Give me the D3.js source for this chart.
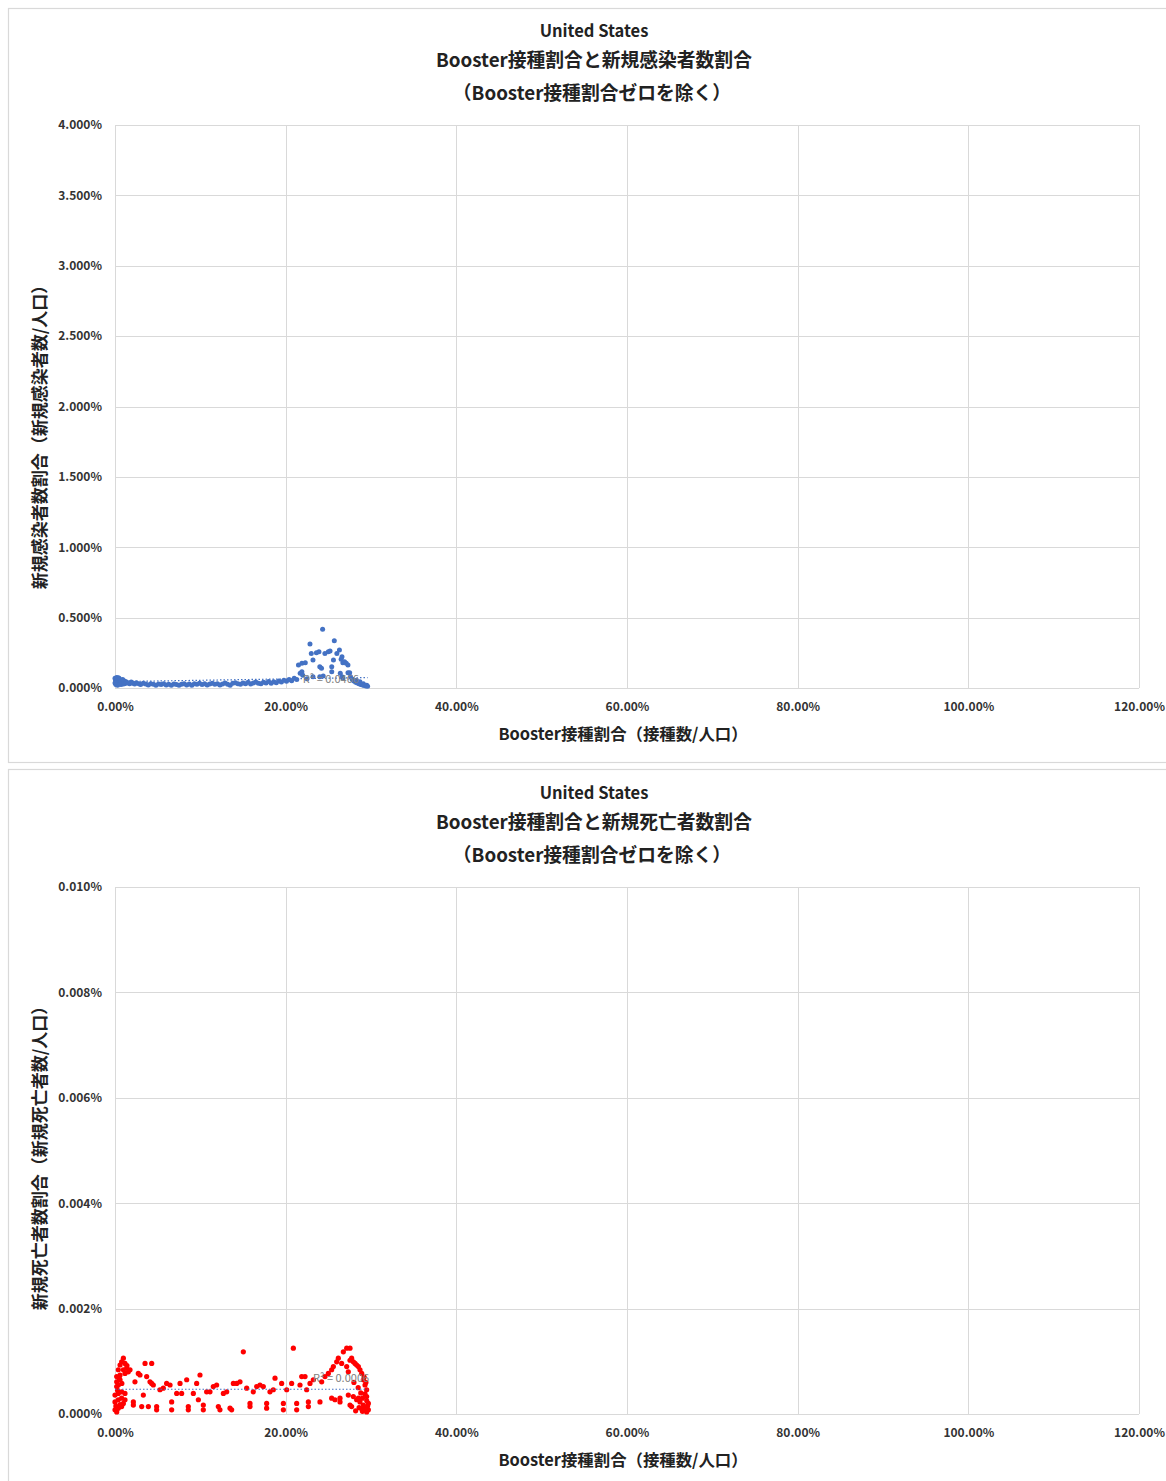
<!DOCTYPE html>
<html>
<head>
<meta charset="utf-8">
<script src="https://cdn.jsdelivr.net/npm/d3@7"></script>
<style>
  html, body { margin: 0; padding: 0; background: #fff; }
  svg text { font-family: "Noto Sans CJK JP", "Noto Sans", sans-serif; }
</style>
</head>
<body>
<svg id="chart" width="1166" height="1481"></svg>
<script>
// ---------- DATA ----------
const xTicks = [0, 20, 40, 60, 80, 100, 120];           // Booster ratio (%)
const yTicksCases = [0, 0.5, 1.0, 1.5, 2.0, 2.5, 3.0, 3.5, 4.0]; // %
const yTicksDeaths = [0, 0.002, 0.004, 0.006, 0.008, 0.010];     // %

const titleCountry = "United States";
const titleCases = "Booster接種割合と新規感染者数割合";
const titleDeaths = "Booster接種割合と新規死亡者数割合";
const subtitle = "（Booster接種割合ゼロを除く）";
const xAxisTitle = "Booster接種割合（接種数/人口）";
const yAxisTitleCases = "新規感染者数割合（新規感染者数/人口）";
const yAxisTitleDeaths = "新規死亡者数割合（新規死亡者数/人口）";

// New cases ratio (%) vs booster ratio (%)
const casesBooster = [0.0,0.05,0.1,0.15,0.2,0.25,0.3,0.35,0.4,0.45,0.5,0.55,0.6,0.7,0.8,0.9,1.0,1.1,1.2,1.3,1.5,1.7,1.9,2.1,2.3,2.5,2.8,3.0,3.3,3.6,3.9,4.2,4.5,4.8,5.1,5.4,5.7,6.0,6.3,6.6,6.9,7.2,7.5,7.8,8.1,8.4,8.7,9.0,9.3,9.6,9.9,10.2,10.5,10.8,11.1,11.4,11.7,12.0,12.3,12.6,12.9,13.2,13.5,13.8,14.1,14.4,14.7,15.0,15.3,15.6,15.9,16.2,16.5,16.8,17.1,17.4,17.7,18.0,18.3,18.6,18.9,19.2,19.5,19.8,20.1,20.4,20.7,
  21.0,21.3,21.5,21.7,21.9,21.9,22.0,22.3,22.5,22.85,23.0,23.2,23.2,23.6,23.9,24.0,24.0,24.2,24.33,24.4,24.6,25.0,25.2,25.4,25.4,25.6,25.7,26.0,26.3,26.4,26.5,26.6,26.6,26.7,26.7,26.9,27.1,27.3,27.3,27.5,27.6,27.8,28.0,28.2,28.3,28.4,28.6,28.7,28.8,29.0,29.1,29.2,29.4,29.5,29.6,
  0.1,0.3,0.5,0.7,0.9,0.2,0.6,1.0,0.0,0.4];
const casesRatio = [0.070,0.060,0.050,0.045,0.065,0.040,0.055,0.035,0.062,0.048,0.030,0.058,0.042,0.052,0.036,0.046,0.040,0.050,0.032,0.044,0.038,0.030,0.042,0.034,0.028,0.038,0.030,0.024,0.034,0.028,0.022,0.030,0.026,0.020,0.028,0.024,0.030,0.022,0.027,0.020,0.028,0.025,0.019,0.027,0.030,0.022,0.028,0.020,0.030,0.026,0.033,0.024,0.030,0.021,0.028,0.034,0.026,0.031,0.022,0.029,0.036,0.027,0.020,0.033,0.038,0.030,0.026,0.035,0.031,0.040,0.028,0.036,0.042,0.033,0.030,0.040,0.036,0.046,0.034,0.044,0.038,0.050,0.042,0.055,0.048,0.060,0.052,
  0.070,0.060,0.163,0.104,0.116,0.175,0.090,0.180,0.065,0.312,0.246,0.199,0.080,0.250,0.258,0.151,0.080,0.140,0.417,0.085,0.246,0.258,0.263,0.151,0.116,0.199,0.336,0.246,0.270,0.104,0.204,0.222,0.080,0.180,0.069,0.187,0.175,0.163,0.109,0.109,0.080,0.060,0.050,0.040,0.055,0.035,0.030,0.045,0.025,0.022,0.030,0.018,0.015,0.020,0.012,
  0.025,0.020,0.068,0.024,0.060,0.075,0.030,0.028,0.035,0.072];
const casesTrend = { booster: [0, 29.6], ratio: [0.045, 0.074] };
const casesR2 = "R² = 0.0466";

// New deaths ratio (%) vs booster ratio (%)
const deathsBooster = [0.98,0.78,0.59,1.17,0.39,0.98,1.37,1.76,0.20,0.59,1.17,1.56,0.20,0.59,0.20,0.39,0.0,0.39,0.78,1.17,0.0,0.39,0.78,0.98,1.17,0.0,0.39,0.78,0.20,0.59,0.10,0.30,
  2.15,2.15,2.34,2.73,2.93,3.13,3.32,3.52,4.30,3.71,4.10,4.30,4.49,3.91,4.88,4.88,5.27,5.66,6.05,6.45,6.64,6.64,7.23,7.62,7.81,8.40,8.59,8.59,9.18,9.57,9.96,9.77,10.35,10.35,10.74,11.13,11.52,11.91,12.11,12.30,12.70,13.09,13.48,13.67,13.87,14.26,14.65,15.04,15.43,15.82,15.82,16.21,16.60,16.99,17.38,17.77,17.77,18.16,18.55,18.75,19.53,19.73,19.73,20.12,20.70,20.90,21.29,21.29,21.68,21.88,22.27,22.46,22.66,22.66,22.85,23.24,24.02,24.22,24.61,25.00,25.39,25.59,25.39,25.78,26.37,26.37,25.98,26.17,26.56,26.76,27.15,27.54,27.15,27.34,27.54,27.73,27.93,28.13,28.32,28.52,28.71,27.34,27.54,27.73,27.93,28.32,28.52,28.71,28.91,29.10,29.30,29.49,29.49,29.69,29.69,29.49,29.30,29.10,
  28.0,28.5,28.8,29.0,29.2,29.4,29.6,29.5,29.0,28.6,28.2,0.5,1.4,0.8,29.3,28.9];
const deathsRatio = [1.06,0.99,0.93,0.96,0.84,0.84,0.87,0.84,0.71,0.74,0.77,0.80,0.61,0.65,0.52,0.55,0.36,0.39,0.42,0.39,0.23,0.27,0.30,0.20,0.27,0.08,0.11,0.14,0.04,0.18,0.15,0.45,
  0.23,0.17,0.61,0.77,0.74,0.14,0.36,0.96,0.96,0.71,0.61,0.58,0.55,0.14,0.14,0.08,0.46,0.49,0.58,0.55,0.23,0.08,0.39,0.58,0.39,0.65,0.08,0.14,0.39,0.58,0.74,0.27,0.17,0.08,0.42,0.42,0.52,0.55,0.14,0.08,0.39,0.42,0.11,0.08,0.58,0.58,0.61,1.18,0.49,0.20,0.14,0.42,0.52,0.55,0.52,0.20,0.11,0.42,0.46,0.68,0.58,0.20,0.08,0.46,0.58,1.25,0.20,0.08,0.55,0.71,0.71,0.46,0.23,0.14,0.58,0.65,0.23,0.61,0.71,0.77,0.84,0.90,0.30,0.27,0.30,0.23,0.99,1.06,0.96,1.18,1.25,1.25,0.90,0.80,1.02,1.06,0.99,0.96,0.93,0.90,0.84,0.36,0.17,0.14,0.33,0.27,0.30,0.23,0.77,0.65,0.55,0.46,0.33,0.20,0.08,0.04,0.11,0.17,
  0.60,0.50,0.40,0.30,0.70,0.60,0.15,0.25,0.05,0.12,0.06,0.68,0.92,0.58,0.38,0.10].map(v => v / 1000);
const deathsTrend = { booster: [0, 29.6], ratio: [0.00047, 0.00047] };
const deathsR2 = "R² = 0.0006";

// ---------- DRAW ----------
const svg = d3.select("#chart");
const GRID = "#d9d9d9";

function drawChart(cfg) {
  const g = svg.append("g");
  g.append("rect").attr("x", cfg.frame[0]).attr("y", cfg.frame[1])
    .attr("width", cfg.frame[2]).attr("height", cfg.frame[3])
    .attr("fill", "#fff").attr("stroke", GRID).attr("stroke-width", 1.2);

  const x = d3.scaleLinear().domain([0, 120]).range([cfg.left, cfg.right]);
  const y = d3.scaleLinear().domain(cfg.yDomain).range([cfg.bottom, cfg.top]);

  g.append("g").selectAll("line").data(cfg.yTicks).join("line")
    .attr("x1", cfg.left).attr("x2", cfg.right)
    .attr("y1", d => Math.round(y(d)) + 0.5).attr("y2", d => Math.round(y(d)) + 0.5)
    .attr("stroke", GRID).attr("stroke-width", 1);
  g.append("g").selectAll("line").data(xTicks).join("line")
    .attr("y1", cfg.top).attr("y2", cfg.bottom)
    .attr("x1", d => Math.round(x(d)) + 0.5).attr("x2", d => Math.round(x(d)) + 0.5)
    .attr("stroke", GRID).attr("stroke-width", 1);

  const xAxis = d3.axisBottom(x).tickValues(xTicks).tickSize(0).tickPadding(0)
    .tickFormat(d => d.toFixed(2) + "%");
  const xa = g.append("g").attr("transform", `translate(0,${cfg.bottom + 14})`).call(xAxis);
  xa.select(".domain").remove();
  xa.selectAll("text").attr("font-size", 12).attr("font-weight", "bold")
    .attr("fill", "#333").attr("font-family", '"Noto Sans CJK JP", sans-serif');

  const yAxis = d3.axisLeft(y).tickValues(cfg.yTicks).tickSize(0).tickPadding(0)
    .tickFormat(d => d.toFixed(3) + "%");
  const ya = g.append("g").attr("transform", `translate(${cfg.left - 13},0)`).call(yAxis);
  ya.select(".domain").remove();
  ya.selectAll("text").attr("font-size", 12).attr("font-weight", "bold")
    .attr("fill", "#333").attr("font-family", '"Noto Sans CJK JP", sans-serif');

  const pts = cfg.xs.map((v, i) => [v, cfg.ys[i]]);
  g.append("g").selectAll("circle").data(pts).join("circle")
    .attr("cx", d => x(d[0])).attr("cy", d => y(d[1]))
    .attr("r", cfg.r).attr("fill", cfg.color);

  const line = d3.line().x(d => x(d[0])).y(d => y(d[1]));
  g.append("path")
    .datum(cfg.trend.booster.map((v, i) => [v, cfg.trend.ratio[i]]))
    .attr("d", line).attr("fill", "none")
    .attr("stroke", "#4472C4").attr("stroke-width", 1.2).attr("stroke-dasharray", "1.5,2");

  g.append("text").attr("x", x(cfg.r2Pos[0])).attr("y", y(cfg.r2Pos[1]))
    .attr("font-size", 11).attr("fill", "#808080").text(cfg.r2);

  const cx = 594;
  g.append("text").attr("x", cx).attr("y", cfg.titleY[0]).attr("text-anchor", "middle")
    .attr("dominant-baseline", "central").attr("font-size", 16.5).attr("font-weight", "bold")
    .attr("fill", "#222").text(titleCountry);
  g.append("text").attr("x", cx).attr("y", cfg.titleY[1]).attr("text-anchor", "middle")
    .attr("dominant-baseline", "central").attr("font-size", 18.8).attr("font-weight", "bold")
    .attr("fill", "#222").text(cfg.title);
  g.append("text").attr("x", cx - 2).attr("y", cfg.titleY[2]).attr("text-anchor", "middle")
    .attr("dominant-baseline", "central").attr("font-size", 18.8).attr("font-weight", "bold")
    .attr("fill", "#222").text(subtitle);

  g.append("text").attr("x", 623).attr("y", cfg.bottom + 45).attr("text-anchor", "middle")
    .attr("dominant-baseline", "central").attr("font-size", 16.4).attr("font-weight", "bold")
    .attr("fill", "#222").text(xAxisTitle);
  g.append("text").attr("transform", `translate(38,${cfg.yTitleCenter}) rotate(-90)`)
    .attr("text-anchor", "middle").attr("dominant-baseline", "central")
    .attr("font-size", 17).attr("font-weight", "bold").attr("fill", "#222").text(cfg.yTitle);
}

drawChart({
  frame: [8.5, 8.5, 1170, 754],
  left: 115, right: 1139, top: 125, bottom: 688,
  yDomain: [0, 4.0], yTicks: yTicksCases,
  xs: casesBooster, ys: casesRatio, color: "#4472C4", r: 2.5,
  trend: casesTrend, r2: casesR2, r2Pos: [22.0, 0.035],
  title: titleCases, titleY: [30, 58, 91],
  yTitle: yAxisTitleCases, yTitleCenter: 433
});

drawChart({
  frame: [8.5, 769.5, 1170, 720],
  left: 115, right: 1139, top: 887, bottom: 1414,
  yDomain: [0, 0.010], yTicks: yTicksDeaths,
  xs: deathsBooster, ys: deathsRatio, color: "#FF0000", r: 2.6,
  trend: deathsTrend, r2: deathsR2, r2Pos: [23.2, 0.00060],
  title: titleDeaths, titleY: [792, 820, 853],
  yTitle: yAxisTitleDeaths, yTitleCenter: 1154
});
</script>
</body>
</html>
